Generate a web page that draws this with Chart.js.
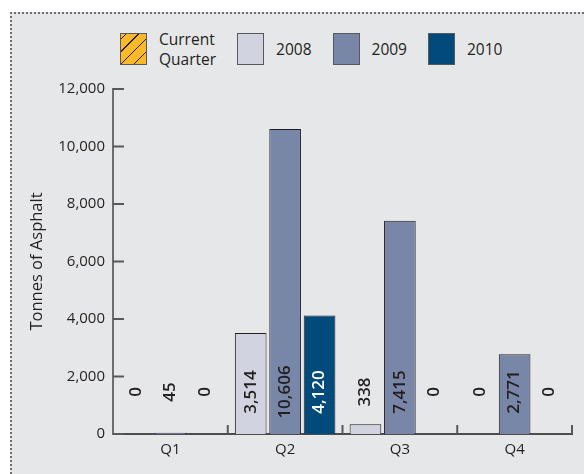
<!DOCTYPE html>
<html>
<head>
<meta charset="utf-8">
<script src="https://cdn.jsdelivr.net/npm/chart.js@4"></script>
<style>
  html, body { margin: 0; padding: 0; background: #ffffff; }
  body { width: 584px; height: 474px; position: relative; overflow: hidden; font-family: "Open Sans", sans-serif; }
  .panel {
    position: absolute; left: 10px; top: 12px; width: 574px; height: 462px;
    background: #e6e7e8;
    border-top: 2px dotted #6d6e71; border-left: 2px dotted #6d6e71;
    box-sizing: border-box;
  }
  .legend { position: absolute; left: 108px; top: 15px; display: flex; align-items: center; }
  .legend .item { display: flex; align-items: center; margin-right: 21px; }
  .legend .box { width: 27px; height: 32px; border: 1px solid #58595b; box-sizing: border-box; margin-right: 12px; }
  .legend .lbl { font-size: 15.5px; color: #231f20; line-height: 20px; }
  canvas { position: absolute; left: 0; top: 0; }
</style>
</head>
<body>
<div class="panel">
  <div class="legend" id="legend"></div>
  <canvas id="asphaltChart"></canvas>
</div>
<script>
// tonnes of asphalt per quarter
var quarters = ['Q1', 'Q2', 'Q3', 'Q4']
var years = ['2008', '2009', '2010']
var tonnes2008 = [0, 3514, 338, 0]
var tonnes2009 = [45, 10606, 7415, 2771]
var tonnes2010 = [0, 4120, 0, 0]
var yearColors = ['#d1d4e0', '#7886a8', '#004a7c']
var insideLabelColors = ['#231f20', '#231f20', '#ffffff']

// legend: hatched current quarter + one box per year
var legendEl = document.getElementById('legend')
var legendItems = [{ text: 'Current<br>Quarter', bg: 'repeating-linear-gradient(-45deg, #fbb829 0 8px, #231f20 8px 9px)' }]
years.forEach(function (y, i) {
    legendItems.push({ text: y, bg: yearColors[i] })
})
legendItems.forEach(function (it) {
    var d = document.createElement('div')
    d.className = 'item'
    d.innerHTML = '<div class="box" style="background:' + it.bg + '"></div><div class="lbl">' + it.text + '</div>'
    legendEl.appendChild(d)
})

// ticks drawn inside the axes, axis title and rotated value labels
var extras = {
    id: 'extras',
    afterDraw: function (chart) {
        var ctx = chart.ctx
        var area = chart.chartArea
        var y = chart.scales.y
        ctx.save()
        ctx.strokeStyle = '#58595b'
        ctx.lineWidth = 2
        y.ticks.forEach(function (t) {
            var py = y.getPixelForValue(t.value)
            ctx.beginPath()
            ctx.moveTo(area.left, py)
            ctx.lineTo(area.left + 11, py)
            ctx.stroke()
        })
        var step = (area.right - area.left) / quarters.length
        for (var i = 1; i <= quarters.length; i++) {
            var px = area.left + i * step
            ctx.beginPath()
            ctx.moveTo(px, area.bottom)
            ctx.lineTo(px, area.bottom - 9)
            ctx.stroke()
        }

        ctx.fillStyle = '#231f20'
        ctx.font = '16.5px "Open Sans"'
        ctx.textAlign = 'center'
        ctx.textBaseline = 'middle'
        ctx.translate(25, (area.top + area.bottom) / 2)
        ctx.rotate(-Math.PI / 2)
        ctx.fillText('Tonnes of Asphalt', 0, 0)
        ctx.restore()

        ctx.save()
        ctx.font = '600 17px "Open Sans"'
        ctx.textAlign = 'center'
        ctx.textBaseline = 'middle'
        var cy = area.bottom - 42
        chart.data.datasets.forEach(function (ds, di) {
            chart.getDatasetMeta(di).data.forEach(function (bar, j) {
                var txt = ds.data[j].toLocaleString('en-US')
                var half = ctx.measureText(txt).width / 2
                var inside = bar.y < cy - half
                ctx.save()
                ctx.fillStyle = inside ? insideLabelColors[di] : '#231f20'
                ctx.translate(bar.x, cy)
                ctx.rotate(-Math.PI / 2)
                ctx.fillText(txt, 0, 0)
                ctx.restore()
            })
        })
        ctx.restore()
    }
}

var ctx = document.getElementById('asphaltChart')
var asphaltChart = new Chart(ctx, {
    type: 'bar',
    data: {
        labels: quarters,
        datasets: [
            { label: years[0], data: tonnes2008, backgroundColor: yearColors[0] },
            { label: years[1], data: tonnes2009, backgroundColor: yearColors[1] },
            { label: years[2], data: tonnes2010, backgroundColor: yearColors[2] }
        ].map(function (d) {
            d.borderColor = '#231f20'
            d.borderWidth = 1
            d.categoryPercentage = 0.9
            d.barPercentage = 0.92
            return d
        })
    },
    options: {
        responsive: true,
        maintainAspectRatio: false,
        animation: false,
        layout: { padding: { left: 0, right: 12, top: 75, bottom: 0 } },
        plugins: {
            legend: { display: false },
            tooltip: { enabled: false }
        },
        scales: {
            x: {
                grid: { display: false, drawTicks: false },
                border: { color: '#4d4d4f', width: 2 },
                ticks: { color: '#231f20', font: { family: 'Open Sans', size: 15 }, padding: 7 },
                afterFit: function (s) { s.height = 40 }
            },
            y: {
                min: 0,
                max: 12000,
                grid: { display: false, drawTicks: false },
                border: { color: '#6d6e71', width: 2 },
                ticks: {
                    stepSize: 2000,
                    color: '#231f20',
                    font: { family: 'Open Sans', size: 15 },
                    padding: 8,
                    callback: function (v) { return v.toLocaleString('en-US') }
                },
                afterFit: function (s) { s.width = 101 }
            }
        }
    },
    plugins: [extras]
})
</script>
</body>
</html>
